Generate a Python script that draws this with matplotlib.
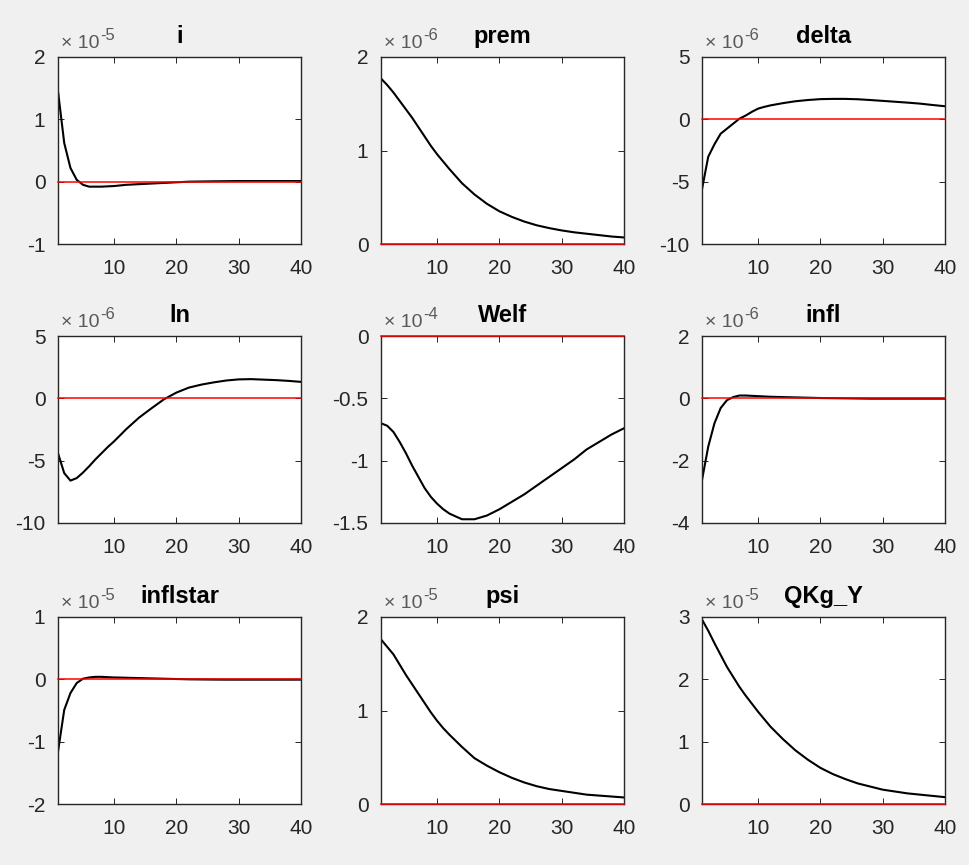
import matplotlib
matplotlib.use("Agg")
import matplotlib.pyplot as plt

plt.rcParams["font.family"] = ["Liberation Sans", "DejaVu Sans"]

# impulse-response horizon points
periods = [1, 2, 3, 4, 5, 6, 7, 8, 9, 10, 11, 12, 14, 16, 18, 20, 22, 24, 26, 28,
           30, 32, 34, 36, 38, 40]

# values in units of the panel's exponent
i_vals = [1.45, 0.62, 0.22, 0.03, -0.05, -0.08, -0.08, -0.08, -0.075, -0.07, -0.06,
          -0.05, -0.04, -0.03, -0.02, -0.01, 0.0, 0.003, 0.006, 0.008, 0.01, 0.01,
          0.01, 0.01, 0.01, 0.01]
prem_vals = [1.77, 1.70, 1.62, 1.53, 1.44, 1.35, 1.25, 1.15, 1.05, 0.96, 0.88, 0.80,
             0.65, 0.53, 0.43, 0.35, 0.29, 0.24, 0.20, 0.17, 0.145, 0.125, 0.11,
             0.095, 0.08, 0.07]
delta_vals = [-5.6, -3.0, -2.0, -1.15, -0.75, -0.35, 0.05, 0.3, 0.6, 0.86, 1.0, 1.12,
              1.3, 1.45, 1.55, 1.62, 1.64, 1.64, 1.61, 1.55, 1.48, 1.41, 1.34, 1.26,
              1.15, 1.05]
ln_vals = [-4.4, -6.0, -6.6, -6.4, -5.96, -5.45, -4.9, -4.4, -3.9, -3.45, -2.95, -2.45,
           -1.55, -0.8, -0.08, 0.46, 0.86, 1.1, 1.28, 1.43, 1.52, 1.54, 1.5, 1.46,
           1.4, 1.32]
welf_vals = [-0.70, -0.72, -0.77, -0.85, -0.94, -1.04, -1.13, -1.22, -1.29, -1.345,
             -1.39, -1.425, -1.47, -1.47, -1.44, -1.39, -1.33, -1.27, -1.2, -1.13,
             -1.06, -0.99, -0.91, -0.85, -0.79, -0.74]
infl_vals = [-2.62, -1.55, -0.8, -0.31, -0.06, 0.04, 0.09, 0.09, 0.08, 0.07, 0.06,
             0.05, 0.04, 0.03, 0.02, 0.01, 0.005, 0.0, -0.005, -0.01, -0.01, -0.01,
             -0.01, -0.01, -0.01, -0.01]
inflstar_vals = [-1.16, -0.49, -0.22, -0.06, 0.01, 0.03, 0.04, 0.04, 0.035, 0.03,
                 0.028, 0.025, 0.02, 0.015, 0.01, 0.005, 0.0, -0.002, -0.004, -0.005,
                 -0.005, -0.005, -0.005, -0.005, -0.005, -0.005]
psi_vals = [1.76, 1.68, 1.60, 1.49, 1.38, 1.28, 1.18, 1.08, 0.98, 0.89, 0.81, 0.74,
            0.61, 0.49, 0.41, 0.34, 0.28, 0.23, 0.19, 0.16, 0.14, 0.12, 0.10, 0.09,
            0.08, 0.07]
qkg_vals = [2.96, 2.78, 2.58, 2.39, 2.2, 2.04, 1.88, 1.74, 1.61, 1.48, 1.36, 1.24,
            1.04, 0.86, 0.71, 0.58, 0.48, 0.40, 0.33, 0.28, 0.23, 0.20, 0.17, 0.15,
            0.13, 0.11]

names = ["i", "prem", "delta", "ln", "Welf", "infl", "inflstar", "psi", "QKg_Y"]
exponents = ["-5", "-6", "-6", "-6", "-4", "-6", "-5", "-5", "-5"]
series = [i_vals, prem_vals, delta_vals, ln_vals, welf_vals, infl_vals,
          inflstar_vals, psi_vals, qkg_vals]
yticks = [[-1, 0, 1, 2], [0, 1, 2], [-10, -5, 0, 5], [-10, -5, 0, 5],
          [-1.5, -1, -0.5, 0], [-4, -2, 0, 2], [-2, -1, 0, 1], [0, 1, 2], [0, 1, 2, 3]]
xticks = [10, 20, 30, 40]

fig = plt.figure(figsize=(9.7, 8.65), dpi=100, facecolor="#f0f0f0")

# subplot boxes in pixels (MATLAB default grid)
lefts = [58, 381, 702]
tops = [57, 336, 617]
w, h = 243, 187
W, H = 970, 865
ink = "#262626"

for k, name in enumerate(names):
    r, c = divmod(k, 3)
    ax = fig.add_axes([lefts[c] / W, (H - tops[r] - h) / H, w / W, h / H])
    ax.plot(periods, series[k], color="black", linewidth=1.5, zorder=2)
    ax.axhline(0, color="red", linewidth=1.1, zorder=3, clip_on=False)
    ax.set_xlim(1, 40)
    ax.set_ylim(yticks[k][0], yticks[k][-1])
    ax.set_xticks(xticks)
    ax.set_yticks(yticks[k])
    ax.set_yticklabels([f"{t:g}" for t in yticks[k]])
    ax.tick_params(direction="in", length=4, width=0.7, top=True, right=True,
                   labelsize=15, colors=ink)
    ax.tick_params(axis="x", pad=11)
    ax.tick_params(axis="y", pad=9)
    for sp in ax.spines.values():
        sp.set_color(ink)
        sp.set_linewidth(1.0)
    ax.set_title(name, fontsize=17, fontweight="bold", pad=10)
    # exponent label, MATLAB style
    ax.annotate("\u00d7 10", xy=(0, 1), xycoords="axes fraction",
                xytext=(3, 9), textcoords="offset pixels", ha="left",
                va="baseline", fontsize=14, color="#595959")
    ax.annotate(exponents[k], xy=(0, 1), xycoords="axes fraction",
                xytext=(42, 17), textcoords="offset pixels", ha="left",
                va="baseline", fontsize=12, color="#595959")

fig.savefig("out.png", dpi=100, facecolor=fig.get_facecolor())
